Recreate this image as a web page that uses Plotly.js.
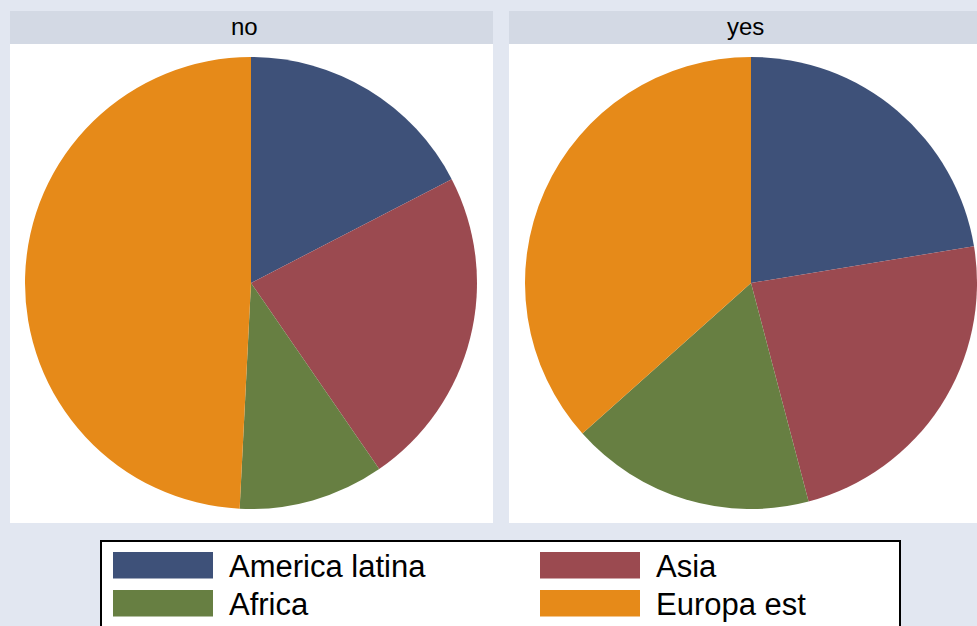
<!DOCTYPE html>
<html>
<head>
<meta charset="utf-8">
<script src="https://cdn.plot.ly/plotly-3.0.1.min.js"></script>
<style>
  html, body { margin: 0; padding: 0; background: #E2E7F1; }
  #chart { width: 977px; height: 626px; }
</style>
</head>
<body>
<div id="chart"></div>
<script>
// ---- Data ----
const categories = ['America latina', 'Asia', 'Africa', 'Europa est'];
const panelTitles = ['no', 'yes'];
const valuesNo = [17.4, 23.0, 10.4, 49.2];
const valuesYes = [22.4, 23.5, 17.5, 36.6];
const sliceColors = ['#3E5179', '#9B4A50', '#677F42', '#E68A19'];

// ---- Layout helpers (pixels -> paper) ----
const W = 977, H = 626;
const px = x => x / W;
const py = y => 1 - y / H;

const panelSeries = [valuesNo, valuesYes];
const panelBoxes = [
  { x0: 10, x1: 493, title: 245, pie: [25, 477] },
  { x0: 509, x1: 1000, title: 745, pie: [525, 977] }
];
const headerTop = 11, headerBottom = 44, panelBottom = 523;
const pieTop = 57, pieBottom = 509;

const traces = panelSeries.map((vals, i) => ({
  type: 'pie',
  labels: categories,
  values: vals,
  sort: false,
  direction: 'clockwise',
  rotation: 0,
  textinfo: 'none',
  hoverinfo: 'none',
  showlegend: false,
  marker: { colors: sliceColors, line: { width: 0 } },
  domain: {
    x: [px(panelBoxes[i].pie[0]), px(panelBoxes[i].pie[1])],
    y: [py(pieBottom), py(pieTop)]
  }
}));

const shapes = [];
const annotations = [];

panelBoxes.forEach((b, i) => {
  shapes.push({
    type: 'rect', xref: 'paper', yref: 'paper', layer: 'below',
    x0: px(b.x0), x1: px(b.x1), y0: py(panelBottom), y1: py(headerBottom),
    fillcolor: '#FFFFFF', line: { width: 0 }
  });
  shapes.push({
    type: 'rect', xref: 'paper', yref: 'paper', layer: 'below',
    x0: px(b.x0), x1: px(b.x1), y0: py(headerBottom), y1: py(headerTop),
    fillcolor: '#D3D9E4', line: { width: 0 }
  });
  annotations.push({
    xref: 'paper', yref: 'paper',
    x: px(b.title),
    y: py((headerTop + headerBottom) / 2 - 1),
    text: panelTitles[i], showarrow: false,
    xanchor: 'center', yanchor: 'middle',
    font: { family: 'Liberation Sans, Arial, sans-serif', size: 24, color: '#000000' }
  });
});

// legend box
shapes.push({
  type: 'rect', xref: 'paper', yref: 'paper', layer: 'below',
  x0: px(101), x1: px(900), y0: py(660), y1: py(541),
  fillcolor: '#FFFFFF', line: { color: '#000000', width: 2 }
});

const legCols = [113, 540];
const legRows = [552, 590];
categories.forEach((c, k) => {
  const col = k % 2, row = Math.floor(k / 2);
  const sx = legCols[col], sy = legRows[row];
  shapes.push({
    type: 'rect', xref: 'paper', yref: 'paper', layer: 'above',
    x0: px(sx), x1: px(sx + 100), y0: py(sy + 26.5), y1: py(sy),
    fillcolor: sliceColors[k], line: { width: 0 }
  });
  annotations.push({
    xref: 'paper', yref: 'paper',
    x: px(sx + 114), y: py(sy + 14),
    text: c, showarrow: false,
    xanchor: 'left', yanchor: 'middle',
    font: { family: 'Liberation Sans, Arial, sans-serif', size: 31, color: '#000000' }
  });
});

const layout = {
  width: W, height: H,
  margin: { l: 0, r: 0, t: 0, b: 0, pad: 0 },
  paper_bgcolor: '#E2E7F1',
  plot_bgcolor: '#E2E7F1',
  showlegend: false,
  shapes: shapes,
  annotations: annotations
};

Plotly.newPlot('chart', traces, layout, { staticPlot: true, displayModeBar: false });
</script>
</body>
</html>
